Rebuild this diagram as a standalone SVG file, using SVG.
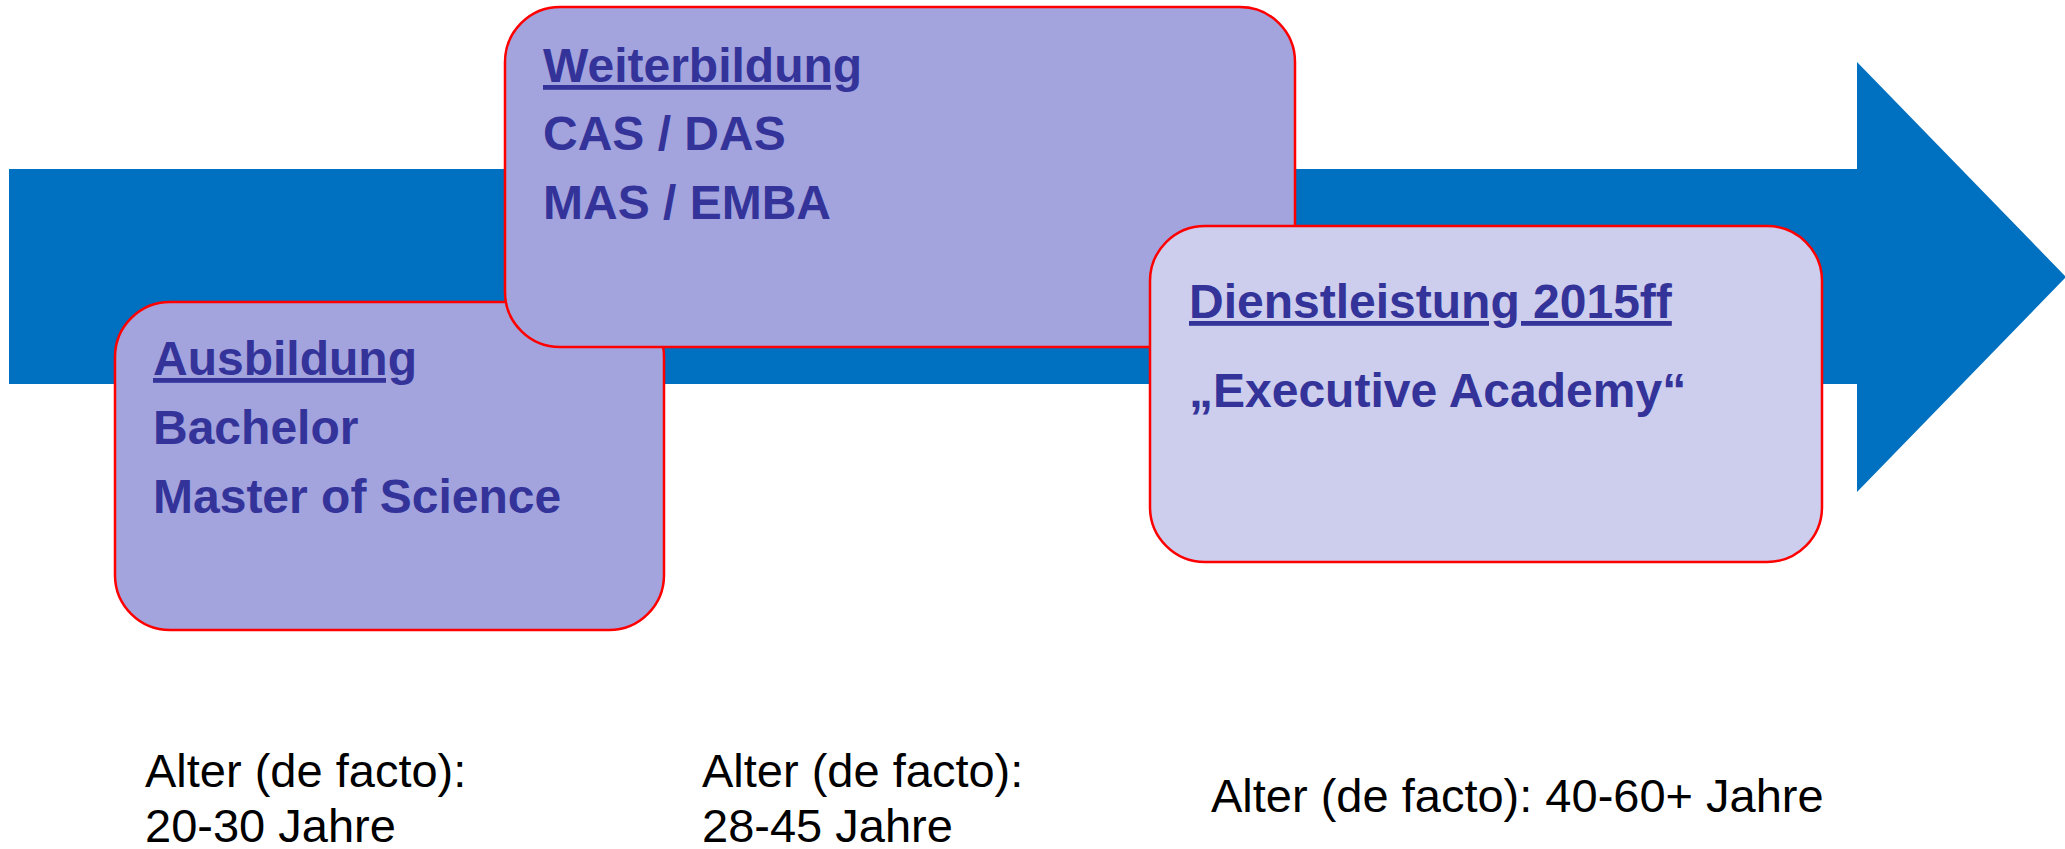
<svg xmlns="http://www.w3.org/2000/svg" width="2065" height="849" viewBox="0 0 2065 849">
  <style>
    .box { stroke: #FF0000; stroke-width: 2.5; }
    .dark { fill: #A3A3DE; }
    .light { fill: #CDCDED; }
    .t { font-family: "Liberation Sans", Arial, sans-serif; font-weight: bold; font-size: 48px; fill: #333399; }
    .u { text-decoration: underline; }
    .age { font-family: "Liberation Sans", Arial, sans-serif; font-size: 47px; fill: #000000; }
  </style>
  <rect x="0" y="0" width="2065" height="849" fill="#FFFFFF"/>
  <g id="connectors">
    <polygon id="timeline-arrow" points="9,169 1857,169 1857,62 2066,277 1857,492 1857,384 9,384" fill="#0070C0"/>
  </g>
  <g id="ausbildung">
    <rect class="box dark" x="115" y="302" width="549" height="328" rx="55" ry="55"/>
    <text class="t u" x="153" y="375">Ausbildung</text>
    <text class="t" x="153" y="444">Bachelor</text>
    <text class="t" x="153" y="513">Master of Science</text>
  </g>
  <g id="weiterbildung">
    <rect class="box dark" x="505" y="7" width="790" height="340" rx="55" ry="55"/>
    <text class="t u" x="543" y="82">Weiterbildung</text>
    <text class="t" x="543" y="150">CAS / DAS</text>
    <text class="t" x="543" y="219">MAS / EMBA</text>
  </g>
  <g id="dienstleistung">
    <rect class="box light" x="1150" y="226" width="672" height="336" rx="55" ry="55"/>
    <text class="t u" x="1189" y="318">Dienstleistung 2015ff</text>
    <text class="t" x="1189" y="407">„Executive Academy“</text>
  </g>
  <g id="age-labels">
    <text class="age" x="145" y="787">Alter (de facto):</text>
    <text class="age" x="145" y="842">20-30 Jahre</text>
    <text class="age" x="702" y="787">Alter (de facto):</text>
    <text class="age" x="702" y="842">28-45 Jahre</text>
    <text class="age" x="1211" y="812">Alter (de facto): 40-60+ Jahre</text>
  </g>
</svg>
